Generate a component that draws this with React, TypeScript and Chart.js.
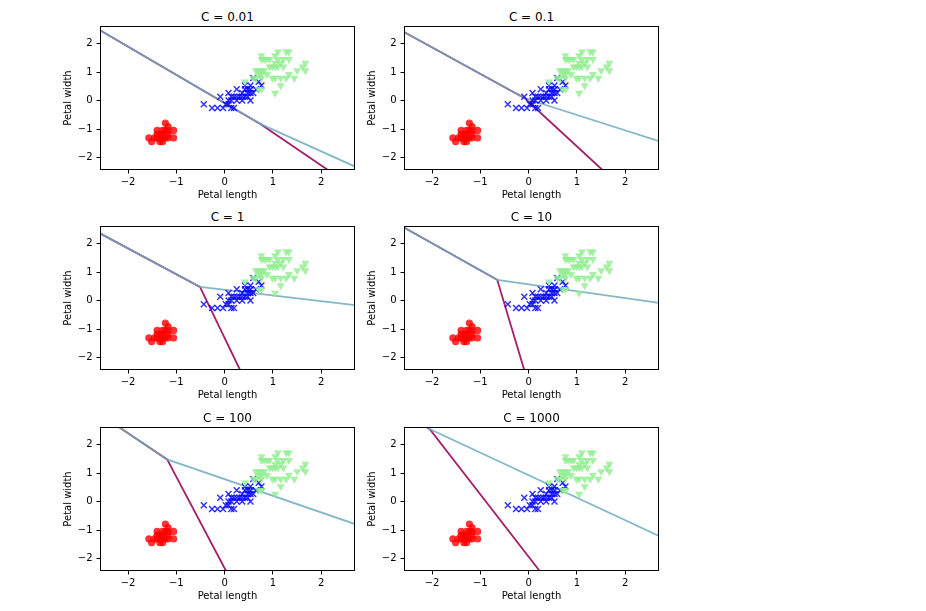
import React, { useEffect, useRef } from "react";
import { Chart, registerables } from "chart.js";

Chart.register(...registerables);

// ---- data ----
const C_LABELS = ["0.01", "0.1", "1", "10", "100", "1000"];
const X_TICKS = [-2, -1, 0, 1, 2];
const Y_TICKS = [-2, -1, 0, 1, 2];
const X_RANGE = [-2.58, 2.7];
const Y_RANGE = [-2.44, 2.62];
const X_LABEL = "Petal length";
const Y_LABEL = "Petal width";

const SETOSA_X = [-1.341, -1.397, -1.284, -1.17, -1.341, -1.284, -1.227, -1.341, -1.511, -1.454, -1.284, -1.397, -1.17, -1.284, -1.17, -1.568, -1.17, -1.056, -1.227, -1.397, -1.227, -1.056];
const SETOSA_Y = [-1.313, -1.313, -1.313, -1.051, -1.182, -1.445, -1.313, -1.445, -1.445, -1.313, -1.051, -1.051, -1.182, -1.182, -1.313, -1.313, -0.919, -1.313, -1.051, -1.182, -0.788, -1.051];

const VERSI_X = [0.536, 0.422, 0.649, 0.138, 0.479, 0.422, 0.536, -0.26, 0.479, 0.081, -0.147, 0.251, 0.138, -0.09, 0.365, 0.194, 0.081, 0.592, 0.536, 0.308, 0.592, 0.706, 0.024, -0.033, 0.081, 0.763, 0.422, 0.536, 0.365, 0.194, 0.365, 0.479, 0.138, 0.251, 0.251, -0.431];
const VERSI_Y = [0.264, 0.396, 0.396, 0.133, 0.396, 0.133, 0.527, -0.262, 0.133, 0.264, -0.262, 0.396, -0.262, 0.133, 0.264, -0.262, -0.13, 0.79, 0.001, 0.133, 0.264, 0.659, -0.13, -0.262, 0.001, 0.527, 0.527, 0.396, 0.133, 0.133, 0.001, 0.264, 0.001, 0.133, 0.001, -0.13];

const VIRG_X = [1.275, 0.763, 1.217, 1.047, 1.161, 1.616, 0.422, 1.445, 1.161, 1.331, 0.763, 0.877, 0.99, 0.706, 0.763, 0.877, 0.99, 1.673, 0.706, 1.104, 0.649, 1.673, 0.649, 1.104, 1.275, 0.592, 1.047, 1.161, 1.331, 1.502, 1.047, 0.763, 1.047, 1.331, 1.047, 0.933, 0.763, 1.217, 1.104, 0.82, 0.706, 0.82, 0.933, 0.763];
const VIRG_Y = [1.711, 0.922, 1.185, 0.79, 1.316, 1.185, 0.659, 0.79, 0.79, 1.711, 1.053, 0.922, 1.185, 1.053, 1.579, 1.448, 0.79, 1.316, 0.396, 1.448, 1.053, 1.053, 0.79, 1.185, 0.79, 0.79, 1.185, 0.527, 0.922, 1.053, 1.316, 0.396, 0.264, 1.448, 1.579, 1.185, 1.448, 1.448, 1.711, 1.448, 0.922, 1.053, 1.448, 0.79];

// decision boundary polylines, one entry per panel
const START_X = [-2.58, -2.58, -2.58, -2.58, -2.19, -2.12];
const START_Y = [2.47, 2.41, 2.36, 2.57, 2.62, 2.62];
const JUNC_X = [0.74, -0.08, -0.51, -0.65, -1.19, -2.05];
const JUNC_Y = [-0.82, 0.08, 0.48, 0.73, 1.48, 2.55];
const PURPLE_END_X = [2.14, 1.53, 0.32, -0.09, 0.03, 0.23];
const PURPLE_END_Y = [-2.44, -2.44, -2.44, -2.44, -2.44, -2.44];
const TEAL_END_X = [2.7, 2.7, 2.7, 2.7, 2.7, 2.7];
const TEAL_END_Y = [-2.32, -1.43, -0.16, -0.08, -0.79, -1.21];

// ---- layout ----
const COL_LEFT = [100, 404];
const ROW_TOP = [26, 226, 427];
const AX_W = 255;
const AX_H = 144;
const PAD_L = 50;
const PAD_T = 20;
const PAD_R = 10;
const PAD_B = 40;

const FONT = "'DejaVu Sans', sans-serif";

const pts = (xs: number[], ys: number[]) => xs.map((x, i) => ({ x, y: ys[i] }));
const fmt = (v: number) => (v < 0 ? "\u2212" + Math.abs(v) : String(v));

const framePlugin = {
  id: "frame",
  afterDatasetsDraw(chart: any) {
    const { ctx, chartArea } = chart;
    ctx.save();
    ctx.strokeStyle = "#000";
    ctx.lineWidth = 1;
    ctx.strokeRect(
      chartArea.left + 0.5,
      chartArea.top + 0.5,
      chartArea.right - chartArea.left - 1,
      chartArea.bottom - chartArea.top - 1
    );
    ctx.restore();
  },
};

function Panel({ idx }: { idx: number }) {
  const ref = useRef<HTMLCanvasElement | null>(null);
  const col = idx % 2;
  const row = Math.floor(idx / 2);
  const left = COL_LEFT[col];
  const top = ROW_TOP[row];
  const W = PAD_L + AX_W + PAD_R;
  const H = PAD_T + AX_H + PAD_B;

  useEffect(() => {
    if (!ref.current) return;
    const purple = [
      { x: START_X[idx], y: START_Y[idx] },
      { x: JUNC_X[idx], y: JUNC_Y[idx] },
      { x: PURPLE_END_X[idx], y: PURPLE_END_Y[idx] },
    ];
    const teal = [
      { x: START_X[idx], y: START_Y[idx] },
      { x: JUNC_X[idx], y: JUNC_Y[idx] },
      { x: TEAL_END_X[idx], y: TEAL_END_Y[idx] },
    ];
    const tickFont = { family: FONT, size: 10 };
    const chart = new Chart(ref.current, {
      type: "scatter",
      data: {
        datasets: [
          {
            data: purple,
            showLine: true,
            borderColor: "rgb(165,30,105)",
            borderWidth: 1.8,
            pointRadius: 0,
            order: 5,
          },
          {
            data: teal,
            showLine: true,
            borderColor: "rgba(110,170,192,0.85)",
            borderWidth: 1.8,
            pointRadius: 0,
            order: 4,
          },
          {
            data: pts(SETOSA_X, SETOSA_Y),
            pointStyle: "circle",
            pointRadius: 3.6,
            borderWidth: 0,
            backgroundColor: "rgba(255,0,0,0.8)",
            order: 3,
          },
          {
            data: pts(VERSI_X, VERSI_Y),
            pointStyle: "crossRot",
            pointRadius: 4.2,
            borderWidth: 1.5,
            borderColor: "rgba(0,0,255,0.8)",
            backgroundColor: "rgba(0,0,255,0.8)",
            order: 2,
          },
          {
            data: pts(VIRG_X, VIRG_Y),
            pointStyle: "triangle",
            pointRotation: 180,
            pointRadius: 4.6,
            borderWidth: 0,
            backgroundColor: "rgba(144,238,144,0.8)",
            order: 1,
          },
        ],
      },
      options: {
        animation: false,
        responsive: false,
        devicePixelRatio: 1,
        layout: { padding: { left: 0, top: PAD_T, right: PAD_R, bottom: 0 } },
        plugins: { legend: { display: false }, tooltip: { enabled: false }, title: { display: false } },
        scales: {
          x: {
            type: "linear",
            min: X_RANGE[0],
            max: X_RANGE[1],
            afterBuildTicks: (s: any) => {
              s.ticks = X_TICKS.map((v) => ({ value: v }));
            },
            afterFit: (s: any) => {
              s.height = PAD_B;
            },
            grid: { drawOnChartArea: false, drawTicks: true, tickLength: 3.5, tickColor: "#000", tickWidth: 1 },
            border: { display: false },
            ticks: { color: "#000", font: tickFont, padding: 3, autoSkip: false, maxRotation: 0, callback: (v: any) => fmt(Number(v)) },
            title: { display: true, text: X_LABEL, color: "#000", font: tickFont, padding: { top: 0, bottom: 8.5 } },
          },
          y: {
            type: "linear",
            min: Y_RANGE[0],
            max: Y_RANGE[1],
            afterBuildTicks: (s: any) => {
              s.ticks = Y_TICKS.map((v) => ({ value: v }));
            },
            afterFit: (s: any) => {
              s.width = PAD_L;
            },
            grid: { drawOnChartArea: false, drawTicks: true, tickLength: 3.5, tickColor: "#000", tickWidth: 1 },
            border: { display: false },
            ticks: { color: "#000", font: tickFont, padding: 4, autoSkip: false, callback: (v: any) => fmt(Number(v)) },
            title: { display: true, text: Y_LABEL, color: "#000", font: tickFont, padding: { top: 12, bottom: 0 } },
          },
        },
      },
      plugins: [framePlugin],
    } as any);
    return () => chart.destroy();
  }, [idx]);

  return (
    <>
      <div
        style={{
          position: "absolute",
          left: left,
          top: top - 16.5,
          width: AX_W,
          textAlign: "center",
          font: `12px ${FONT}`,
          lineHeight: "14px",
          color: "#000",
          whiteSpace: "nowrap",
        }}
      >
        {"C = " + C_LABELS[idx]}
      </div>
      <canvas
        ref={ref}
        width={W}
        height={H}
        style={{ position: "absolute", left: left - PAD_L, top: top - PAD_T, width: W, height: H }}
      />
    </>
  );
}

export default function App() {
  return (
    <div style={{ position: "absolute", left: 0, top: 0, width: 926, height: 611, background: "#fff" }}>
      {C_LABELS.map((_, i) => (
        <Panel key={i} idx={i} />
      ))}
    </div>
  );
}
